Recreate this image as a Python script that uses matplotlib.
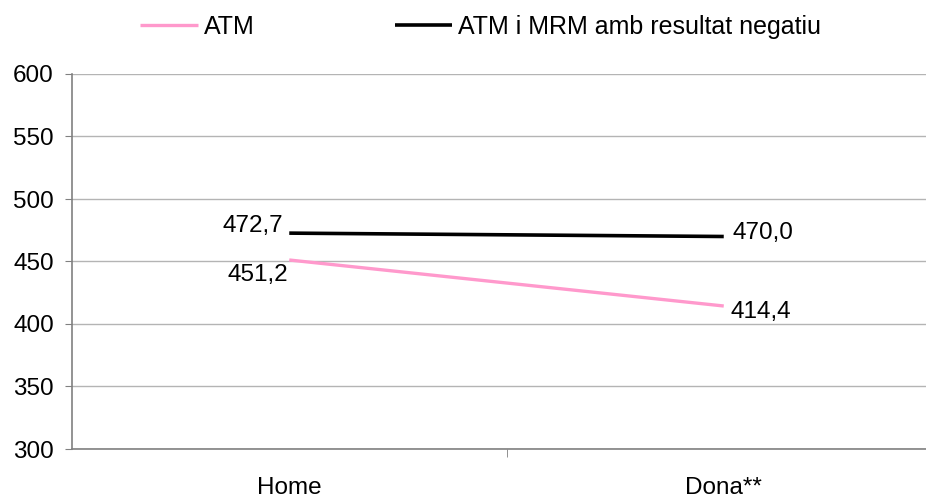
import numpy as np
from matplotlib import pyplot as plt

plt.rcParams['font.family'] = ['Liberation Sans', 'DejaVu Sans']

categories = ['Home', 'Dona**']
atm = [451.2, 414.4]
atm_mrm = [472.7, 470.0]
atm_labels = ['451,2', '414,4']
atm_mrm_labels = ['472,7', '470,0']

fs = 17.5

fig = plt.figure(figsize=(9.26, 4.98), dpi=100)
ax = fig.add_axes([72/926, 1 - 449/498, 869/926, (449 - 74)/498])

x = np.arange(len(categories))
ax.plot(x, atm, color='#FF99CC', lw=2.4, label='ATM', solid_capstyle='butt')
ax.plot(x, atm_mrm, color='black', lw=2.6, label='ATM i MRM amb resultat negatiu', solid_capstyle='butt')

# value labels
ax.annotate(atm_mrm_labels[0], (x[0], atm_mrm[0]), xytext=(-4.5, 5), textcoords='offset points',
            ha='right', va='center', fontsize=fs)
ax.annotate(atm_labels[0], (x[0], atm[0]), xytext=(-1, -10.5), textcoords='offset points',
            ha='right', va='center', fontsize=fs)
ax.annotate(atm_mrm_labels[1], (x[1], atm_mrm[1]), xytext=(6.5, 2.5), textcoords='offset points',
            ha='left', va='center', fontsize=fs)
ax.annotate(atm_labels[1], (x[1], atm[1]), xytext=(5, -4), textcoords='offset points',
            ha='left', va='center', fontsize=fs)

ax.set_xlim(-0.5, 1.5)
ax.set_ylim(300, 600)
ax.set_yticks(np.arange(300, 601, 50))
ax.set_xticks(x)
ax.set_xticklabels(categories, fontsize=fs)
ax.set_xticks([0.5], minor=True)
ax.tick_params(axis='x', which='major', length=0, pad=20)
ax.tick_params(axis='x', which='minor', length=6, color='#808080')
ax.tick_params(axis='y', length=5, color='#808080', labelsize=fs, pad=8)

ax.yaxis.grid(True, color='#b4b4b4', lw=1)
ax.set_axisbelow(True)
for s in ['top', 'right']:
    ax.spines[s].set_visible(False)
for s in ['left', 'bottom']:
    ax.spines[s].set_color('#808080')
    ax.spines[s].set_linewidth(1.2)

fig.legend(loc='center left', bbox_to_anchor=(140/926, 1 - 27/498), ncol=2, frameon=False,
           fontsize=18, handlelength=2.3, handletextpad=0.25, columnspacing=5.6,
           borderaxespad=0, borderpad=0)

fig.savefig('out.png', dpi=100)
